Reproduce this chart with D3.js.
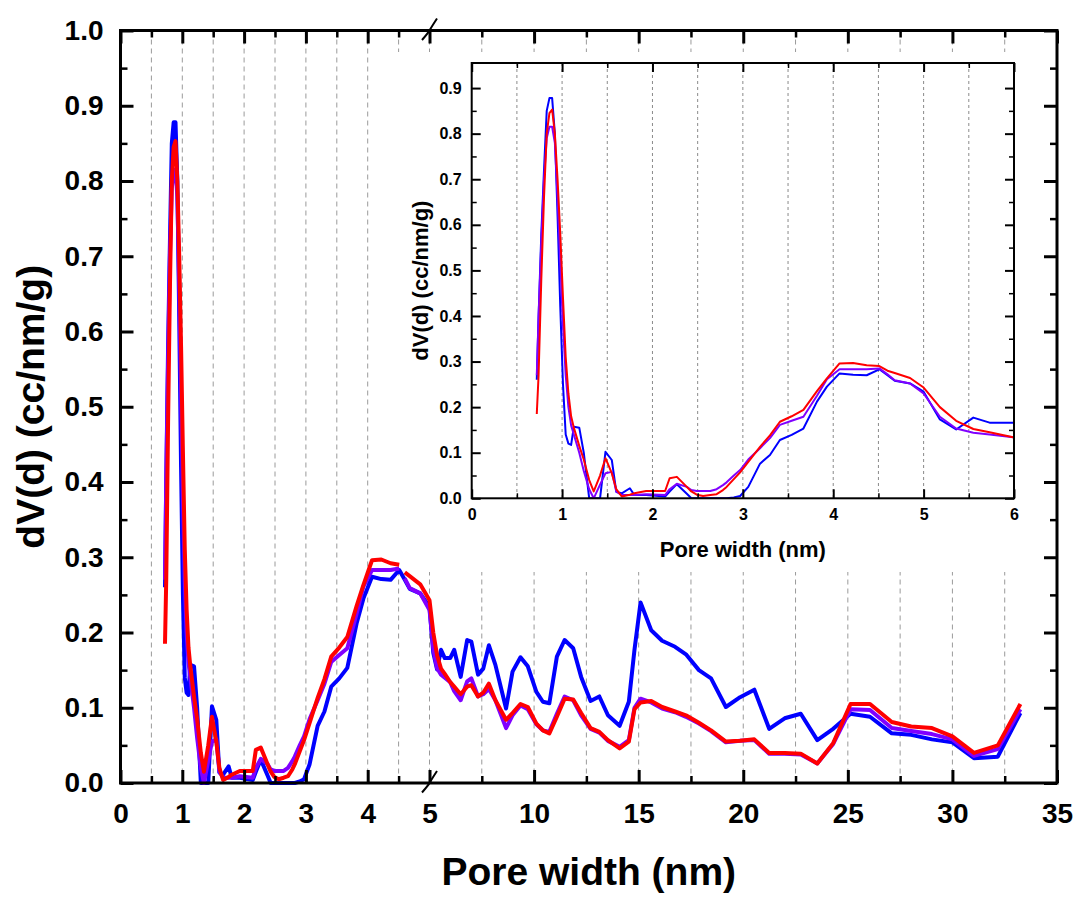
<!DOCTYPE html>
<html>
<head>
<meta charset="utf-8">
<script src="https://cdn.jsdelivr.net/npm/d3@7"></script>
<style>
  body { margin: 0; background: #fff; }
  svg text { font-family: "Liberation Sans", Arial, sans-serif; font-weight: bold; fill: #000; }
</style>
</head>
<body>
<script>
// pore width (nm) and dV(d) (cc/nm/g) for the three samples
const poreWidth = [0.72, 0.74, 0.77, 0.80, 0.83, 0.86, 0.89, 0.92, 0.95, 0.98,
  1.01, 1.04, 1.07, 1.10, 1.13, 1.19, 1.24, 1.30, 1.35, 1.42,
  1.48, 1.55, 1.60, 1.66, 1.75, 1.80, 1.93, 2.14, 2.19, 2.27,
  2.38, 2.43, 2.49, 2.56, 2.64, 2.71, 2.78, 2.82, 2.90, 2.97,
  3.06, 3.19, 3.30, 3.41, 3.54, 3.67, 3.82, 3.93, 4.07, 4.22,
  4.37, 4.51, 4.60, 4.68, 4.85, 5.00, 5.18, 5.36, 5.55, 5.73,
  5.99, 6.18, 6.49, 6.80, 7.00, 7.32, 7.57, 7.84, 8.15, 8.66,
  8.97, 9.35, 9.70, 10.11, 10.42, 10.73, 11.09, 11.46, 11.87, 12.25,
  12.70, 13.12, 13.53, 14.09, 14.53, 14.80, 15.09, 15.60, 16.12, 16.74,
  17.26, 17.88, 18.46, 19.17, 19.85, 20.53, 21.24, 21.98, 22.75, 23.54,
  24.30, 25.13, 26.06, 27.10, 28.03, 29.02, 30.00, 31.03, 32.17, 33.25]

const dvBlue = [0.26, 0.40, 0.58, 0.72, 0.85, 0.878, 0.878, 0.80, 0.62, 0.42,
  0.25, 0.14, 0.12, 0.117, 0.157, 0.155, 0.10, 0.0, 0.0, 0.0,
  0.102, 0.084, 0.014, 0.011, 0.022, 0.007, 0.007, 0.004, 0.015, 0.031,
  0.01, 0.0, 0.0, 0.0, 0.0, 0.0, 0.0, 0.0, 0.002, 0.005,
  0.025, 0.076, 0.095, 0.128, 0.139, 0.153, 0.212, 0.245, 0.274, 0.271,
  0.270, 0.283, 0.27, 0.258, 0.252, 0.234, 0.173, 0.151, 0.177, 0.166,
  0.166, 0.177, 0.141, 0.190, 0.188, 0.144, 0.152, 0.183, 0.157, 0.099,
  0.148, 0.167, 0.155, 0.121, 0.108, 0.106, 0.168, 0.190, 0.179, 0.141,
  0.109, 0.115, 0.090, 0.076, 0.108, 0.177, 0.240, 0.203, 0.189, 0.181,
  0.171, 0.150, 0.139, 0.101, 0.114, 0.124, 0.072, 0.086, 0.092, 0.057,
  0.072, 0.092, 0.088, 0.066, 0.064, 0.058, 0.054, 0.033, 0.035, 0.093]

const dvViolet = [0.27, 0.40, 0.56, 0.70, 0.79, 0.815, 0.815, 0.78, 0.66, 0.52,
  0.38, 0.27, 0.20, 0.16, 0.14, 0.10, 0.06, 0.02, 0.0, 0.03,
  0.055, 0.058, 0.015, 0.007, 0.007, 0.007, 0.009, 0.007, 0.02, 0.032,
  0.025, 0.018, 0.016, 0.016, 0.016, 0.02, 0.029, 0.035, 0.05, 0.062,
  0.085, 0.11, 0.132, 0.161, 0.17, 0.179, 0.225, 0.261, 0.283, 0.283,
  0.283, 0.285, 0.272, 0.259, 0.252, 0.230, 0.179, 0.153, 0.144, 0.140,
  0.134, 0.122, 0.11, 0.135, 0.139, 0.115, 0.118, 0.125, 0.11, 0.073,
  0.09, 0.103, 0.098, 0.078, 0.07, 0.068, 0.092, 0.115, 0.11, 0.09,
  0.072, 0.067, 0.056, 0.048, 0.057, 0.10, 0.112, 0.107, 0.099, 0.094,
  0.088, 0.079, 0.069, 0.054, 0.056, 0.057, 0.039, 0.039, 0.038, 0.026,
  0.052, 0.098, 0.097, 0.073, 0.069, 0.065, 0.058, 0.036, 0.045, 0.098]

const dvRed = [0.185, 0.27, 0.48, 0.66, 0.80, 0.845, 0.853, 0.80, 0.70, 0.58,
  0.44, 0.31, 0.23, 0.18, 0.155, 0.115, 0.085, 0.04, 0.015, 0.05,
  0.088, 0.055, 0.02, 0.004, 0.008, 0.011, 0.016, 0.016, 0.044, 0.047,
  0.025, 0.015, 0.008, 0.005, 0.007, 0.009, 0.018, 0.025, 0.042, 0.057,
  0.08, 0.113, 0.138, 0.168, 0.18, 0.194, 0.235, 0.263, 0.296, 0.297,
  0.292, 0.290, 0.28, 0.275, 0.264, 0.243, 0.200, 0.170, 0.152, 0.145,
  0.134, 0.128, 0.118, 0.128, 0.130, 0.115, 0.12, 0.132, 0.11, 0.084,
  0.093, 0.105, 0.101, 0.079, 0.07, 0.066, 0.088, 0.112, 0.111, 0.093,
  0.073, 0.068, 0.057, 0.046, 0.055, 0.098, 0.107, 0.109, 0.101, 0.095,
  0.090, 0.080, 0.070, 0.055, 0.056, 0.058, 0.040, 0.040, 0.039, 0.026,
  0.053, 0.105, 0.105, 0.081, 0.075, 0.073, 0.062, 0.040, 0.050, 0.105]

const serieCores = ['#0000ff', '#8000ff', '#ff0000']
// the red and violet traces are not joined across 4.5-4.6 nm in the main plot
const serieQuebrada = [false, true, true]

// tick values
const xTicksLeft = [0, 1, 2, 3, 4, 5]
const xTicksRight = [10, 15, 20, 25, 30, 35]
const xMinorLeft = [0.5, 1.5, 2.5, 3.5, 4.5]
const xMinorRight = [7.5, 12.5, 17.5, 22.5, 27.5, 32.5]
const yTicks = [0, 0.1, 0.2, 0.3, 0.4, 0.5, 0.6, 0.7, 0.8, 0.9, 1.0]
const insetXTicks = [0, 1, 2, 3, 4, 5, 6]
const insetYTicks = [0, 0.1, 0.2, 0.3, 0.4, 0.5, 0.6, 0.7, 0.8, 0.9]

const largura = 1079
const altura = 898
const caixa = {esquerda: 120.5, direita: 1057, topo: 30.5, base: 783}
const quebra = 429.5
const insetCaixa = {esquerda: 471.7, direita: 1014, topo: 63, base: 498.3}

var series = [dvBlue, dvViolet, dvRed].map(function (vals) {
  return poreWidth.map(function (p, i) { return {p: p, v: vals[i]} })
})

var svg = d3.select('body').append('svg')
  .attr('width', largura)
  .attr('height', altura)

// main plot: broken x axis, 0-5 then 5-35
var x = d3.scaleLinear().domain([0, 5, 35]).range([caixa.esquerda, quebra, caixa.direita])
var y = d3.scaleLinear().domain([0, 1]).range([caixa.base, caixa.topo])

var gridMain = d3.range(0.5, 5.01, 0.5).concat(d3.range(7.5, 33, 2.5))
svg.append('g').selectAll('line').data(gridMain).join('line')
  .attr('x1', d => x(d)).attr('x2', d => x(d))
  .attr('y1', caixa.topo).attr('y2', caixa.base)
  .attr('stroke', '#9a9a9a').attr('stroke-width', 1)
  .attr('stroke-dasharray', '5,4')

// white panel behind the inset and its labels
svg.append('rect')
  .attr('x', 388).attr('y', 52)
  .attr('width', 1030 - 388).attr('height', 572 - 52)
  .attr('fill', '#fff')

var linhaMain = d3.line().x(d => x(d.p)).y(d => y(d.v))

series.forEach(function (s, i) {
  var partes = serieQuebrada[i]
    ? [s.filter(d => d.p <= 4.55), s.filter(d => d.p >= 4.55)]
    : [s]
  partes.forEach(function (parte) {
    svg.append('path')
      .attr('d', linhaMain(parte))
      .attr('fill', 'none')
      .attr('stroke', serieCores[i])
      .attr('stroke-width', 4)
      .attr('stroke-linejoin', 'round')
  })
})

function estiloEixo (g, tam, largTick) {
  g.select('.domain').remove()
  g.attr('font-family', null).attr('font-size', null)
  g.selectAll('line').attr('stroke', '#000').attr('stroke-width', largTick)
  g.selectAll('text').style('font-size', tam + 'px')
}

var yMinor = d3.range(0.05, 1, 0.1)

// bottom
svg.append('g').attr('transform', 'translate(0,' + caixa.base + ')')
  .call(d3.axisBottom(x).tickValues(xTicksLeft.concat(xTicksRight))
    .tickSize(-13).tickSizeOuter(0).tickPadding(20).tickFormat(d3.format('d')))
  .call(g => estiloEixo(g, 28, 3))
svg.append('g').attr('transform', 'translate(0,' + caixa.base + ')')
  .call(d3.axisBottom(x).tickValues(xMinorLeft.concat(xMinorRight))
    .tickSize(-7).tickSizeOuter(0).tickFormat(''))
  .call(g => estiloEixo(g, 28, 2.5))
// top
svg.append('g').attr('transform', 'translate(0,' + caixa.topo + ')')
  .call(d3.axisTop(x).tickValues(xTicksLeft.concat(xTicksRight))
    .tickSize(-13).tickSizeOuter(0).tickFormat(''))
  .call(g => estiloEixo(g, 28, 3))
svg.append('g').attr('transform', 'translate(0,' + caixa.topo + ')')
  .call(d3.axisTop(x).tickValues(xMinorLeft.concat(xMinorRight))
    .tickSize(-7).tickSizeOuter(0).tickFormat(''))
  .call(g => estiloEixo(g, 28, 2.5))
// left
svg.append('g').attr('transform', 'translate(' + caixa.esquerda + ',0)')
  .call(d3.axisLeft(y).tickValues(yTicks)
    .tickSize(-13).tickSizeOuter(0).tickPadding(17).tickFormat(d3.format('.1f')))
  .call(g => estiloEixo(g, 28, 3))
svg.append('g').attr('transform', 'translate(' + caixa.esquerda + ',0)')
  .call(d3.axisLeft(y).tickValues(yMinor).tickSize(-7).tickSizeOuter(0).tickFormat(''))
  .call(g => estiloEixo(g, 28, 2.5))
// right
svg.append('g').attr('transform', 'translate(' + caixa.direita + ',0)')
  .call(d3.axisRight(y).tickValues(yTicks).tickSize(-13).tickSizeOuter(0).tickFormat(''))
  .call(g => estiloEixo(g, 28, 3))
svg.append('g').attr('transform', 'translate(' + caixa.direita + ',0)')
  .call(d3.axisRight(y).tickValues(yMinor).tickSize(-7).tickSizeOuter(0).tickFormat(''))
  .call(g => estiloEixo(g, 28, 2.5))

svg.append('rect')
  .attr('x', caixa.esquerda).attr('y', caixa.topo)
  .attr('width', caixa.direita - caixa.esquerda)
  .attr('height', caixa.base - caixa.topo)
  .attr('fill', 'none').attr('stroke', '#000').attr('stroke-width', 3)

// break marks
;[caixa.topo, caixa.base].forEach(function (yy) {
  var xb = x(5)
  svg.append('path')
    .attr('d', 'M' + (xb - 7.5) + ',' + (yy + 9.5) +
               'Q' + (xb - 1) + ',' + (yy + 2) + ' ' + xb + ',' + yy +
               'T' + (xb + 7.5) + ',' + (yy - 12))
    .attr('fill', 'none').attr('stroke', '#000').attr('stroke-width', 2)
})

svg.append('text')
  .attr('x', (caixa.esquerda + caixa.direita) / 2)
  .attr('y', 885)
  .attr('text-anchor', 'middle')
  .style('font-size', '39px')
  .text('Pore width (nm)')

svg.append('text')
  .attr('transform', 'translate(44,' + ((caixa.topo + caixa.base) / 2) + ') rotate(-90)')
  .attr('text-anchor', 'middle')
  .style('font-size', '39px')
  .text('dV(d) (cc/nm/g)')

// inset 0-6 nm
var xi = d3.scaleLinear().domain([0, 6]).range([insetCaixa.esquerda, insetCaixa.direita])
var yi = d3.scaleLinear().domain([0, 0.955]).range([insetCaixa.base, insetCaixa.topo])

var inset = svg.append('g')

inset.append('clipPath').attr('id', 'clipInset')
  .append('rect')
  .attr('x', insetCaixa.esquerda).attr('y', insetCaixa.topo)
  .attr('width', insetCaixa.direita - insetCaixa.esquerda)
  .attr('height', insetCaixa.base - insetCaixa.topo)

inset.append('g').selectAll('line').data(d3.range(0.5, 5.6, 0.5)).join('line')
  .attr('x1', d => xi(d)).attr('x2', d => xi(d))
  .attr('y1', insetCaixa.topo).attr('y2', insetCaixa.base)
  .attr('stroke', '#8a8a8a').attr('stroke-width', 1)
  .attr('stroke-dasharray', '3,3')

var linhaInset = d3.line().x(d => xi(d.p)).y(d => yi(d.v))

series.forEach(function (s, i) {
  inset.append('path')
    .attr('clip-path', 'url(#clipInset)')
    .attr('d', linhaInset(s.filter(d => d.p <= 6.5)))
    .attr('fill', 'none')
    .attr('stroke', serieCores[i])
    .attr('stroke-width', 2)
    .attr('stroke-linejoin', 'round')
})

var insetXMinor = d3.range(0.5, 6, 1)
var insetYMinor = d3.range(0.05, 0.95, 0.1)

inset.append('g').attr('transform', 'translate(0,' + insetCaixa.base + ')')
  .call(d3.axisBottom(xi).tickValues(insetXTicks).tickSize(-9).tickSizeOuter(0)
    .tickPadding(10).tickFormat(d3.format('d')))
  .call(g => estiloEixo(g, 16, 2))
inset.append('g').attr('transform', 'translate(0,' + insetCaixa.base + ')')
  .call(d3.axisBottom(xi).tickValues(insetXMinor).tickSize(-5).tickSizeOuter(0).tickFormat(''))
  .call(g => estiloEixo(g, 16, 1.5))
inset.append('g').attr('transform', 'translate(0,' + insetCaixa.topo + ')')
  .call(d3.axisTop(xi).tickValues(insetXTicks).tickSize(-9).tickSizeOuter(0).tickFormat(''))
  .call(g => estiloEixo(g, 16, 2))
inset.append('g').attr('transform', 'translate(0,' + insetCaixa.topo + ')')
  .call(d3.axisTop(xi).tickValues(insetXMinor).tickSize(-5).tickSizeOuter(0).tickFormat(''))
  .call(g => estiloEixo(g, 16, 1.5))
inset.append('g').attr('transform', 'translate(' + insetCaixa.esquerda + ',0)')
  .call(d3.axisLeft(yi).tickValues(insetYTicks).tickSize(-9).tickSizeOuter(0)
    .tickPadding(10).tickFormat(d3.format('.1f')))
  .call(g => estiloEixo(g, 16, 2))
inset.append('g').attr('transform', 'translate(' + insetCaixa.esquerda + ',0)')
  .call(d3.axisLeft(yi).tickValues(insetYMinor).tickSize(-5).tickSizeOuter(0).tickFormat(''))
  .call(g => estiloEixo(g, 16, 1.5))
inset.append('g').attr('transform', 'translate(' + insetCaixa.direita + ',0)')
  .call(d3.axisRight(yi).tickValues(insetYTicks).tickSize(-9).tickSizeOuter(0).tickFormat(''))
  .call(g => estiloEixo(g, 16, 2))
inset.append('g').attr('transform', 'translate(' + insetCaixa.direita + ',0)')
  .call(d3.axisRight(yi).tickValues(insetYMinor).tickSize(-5).tickSizeOuter(0).tickFormat(''))
  .call(g => estiloEixo(g, 16, 1.5))

inset.append('rect')
  .attr('x', insetCaixa.esquerda).attr('y', insetCaixa.topo)
  .attr('width', insetCaixa.direita - insetCaixa.esquerda)
  .attr('height', insetCaixa.base - insetCaixa.topo)
  .attr('fill', 'none').attr('stroke', '#000').attr('stroke-width', 2)

inset.append('text')
  .attr('x', (insetCaixa.esquerda + insetCaixa.direita) / 2)
  .attr('y', 557)
  .attr('text-anchor', 'middle')
  .style('font-size', '22px')
  .text('Pore width (nm)')

inset.append('text')
  .attr('transform', 'translate(427.5,' + ((insetCaixa.topo + insetCaixa.base) / 2) + ') rotate(-90)')
  .attr('text-anchor', 'middle')
  .style('font-size', '22px')
  .text('dV(d) (cc/nm/g)')
</script>
</body>
</html>
